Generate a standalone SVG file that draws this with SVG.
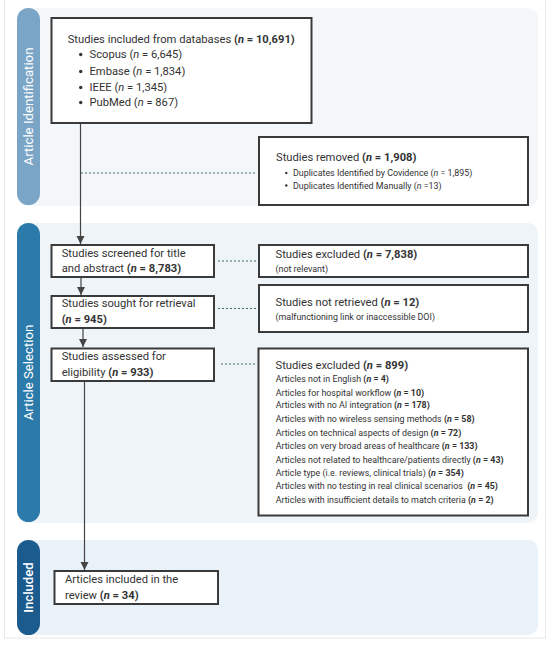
<svg xmlns="http://www.w3.org/2000/svg" width="550" height="645" viewBox="0 0 550 645">
<style>
  text { font-family: Roboto, "Liberation Sans", sans-serif; fill: #333333; }
  .t { font-size: 11.2px; }
  .s { font-size: 8.9px; }
  .b { font-weight: bold; }
  .i { font-style: italic; }
  .box { fill: #ffffff; stroke: #3a3a3a; stroke-width: 2; }
  .side { font-size: 13.2px; fill: #ffffff; }
  .dot { stroke: #3d6f6f; stroke-width: 1.1; stroke-dasharray: 2 2; fill: none; }
  .arr { stroke: #444444; stroke-width: 1.2; fill: none; }
  .bul { fill: #333333; }
</style>
<defs>
  <marker id="ah" markerUnits="userSpaceOnUse" markerWidth="9" markerHeight="9" refX="8" refY="4.5" orient="auto">
    <path d="M0,0.5 L8,4.5 L0,8.5 Z" fill="#444444"/>
  </marker>
</defs>
<rect x="4.5" y="-2" width="541" height="640" fill="#ffffff" stroke="#e8e8e8" stroke-width="1"/>

<g id="panels">
  <rect x="17" y="8" width="521" height="198" rx="10" fill="#f4f7fa"/>
  <rect x="17" y="223" width="521" height="300" rx="10" fill="#eef4f8"/>
  <rect x="17" y="540" width="521" height="95" rx="10" fill="#e9f1f9"/>
</g>

<g id="sidebar-identification">
  <rect x="17" y="8" width="23" height="197" rx="11.5" fill="#7ba5c6"/>
  <text class="side" transform="translate(28.5,106.5) rotate(-90)" text-anchor="middle" dominant-baseline="central">Article Identification</text>
</g>
<g id="sidebar-selection">
  <rect x="17" y="223" width="23" height="299" rx="11.5" fill="#2b7aa9"/>
  <text class="side" transform="translate(28.5,372.5) rotate(-90)" text-anchor="middle" dominant-baseline="central">Article Selection</text>
</g>
<g id="sidebar-included">
  <rect x="17" y="540" width="23" height="95" rx="11.5" fill="#1c5b8e"/>
  <text class="side" font-weight="500" transform="translate(28.5,587.5) rotate(-90)" text-anchor="middle" dominant-baseline="central">Included</text>
</g>

<g id="connectors">
  <line class="arr" x1="80.5" y1="123" x2="80.5" y2="244" marker-end="url(#ah)"/>
  <line class="arr" x1="81" y1="277" x2="81" y2="295" marker-end="url(#ah)"/>
  <line class="arr" x1="83" y1="328" x2="83" y2="347" marker-end="url(#ah)"/>
  <line class="arr" x1="84.5" y1="381" x2="84.5" y2="570" marker-end="url(#ah)"/>
  <line class="dot" x1="81" y1="173" x2="256" y2="173"/>
  <line class="dot" x1="218" y1="261" x2="256" y2="261"/>
  <line class="dot" x1="218" y1="308.5" x2="256" y2="308.5"/>
  <line class="dot" x1="221" y1="364" x2="256" y2="364"/>
</g>

<g id="node-databases">
  <rect class="box" x="51.5" y="18" width="260" height="105"/>
  <text class="t" x="67.7" y="43">Studies included from databases <tspan class="b">(<tspan class="i">n</tspan> = 10,691)</tspan></text>
  <circle class="bul" cx="80.7" cy="54.5" r="1.7"/><text class="t" x="89.5" y="58">Scopus (<tspan class="i">n</tspan> = 6,645)</text>
  <circle class="bul" cx="80.7" cy="71.5" r="1.7"/><text class="t" x="89.5" y="75">Embase (<tspan class="i">n</tspan> = 1,834)</text>
  <circle class="bul" cx="80.7" cy="87.5" r="1.7"/><text class="t" x="89.5" y="91">IEEE (<tspan class="i">n</tspan> = 1,345)</text>
  <circle class="bul" cx="80.7" cy="102.5" r="1.7"/><text class="t" x="89.5" y="106">PubMed (<tspan class="i">n</tspan> = 867)</text>
</g>

<g id="node-removed">
  <rect class="box" x="259" y="137" width="269" height="68"/>
  <text class="t" x="276" y="161">Studies removed <tspan class="b">(<tspan class="i">n</tspan> = 1,908)</tspan></text>
  <circle class="bul" cx="286.3" cy="173" r="1.2"/>
  <text class="s" x="293" y="176">Duplicates Identified by Covidence (<tspan class="i">n</tspan> = 1,895)</text>
  <circle class="bul" cx="286.3" cy="185.5" r="1.2"/>
  <text class="s" x="293" y="188.5">Duplicates Identified Manually (<tspan class="i">n</tspan> =13)</text>
</g>

<g id="node-screened">
  <rect class="box" x="51.5" y="245" width="162.5" height="32"/>
  <text class="t" x="61.7" y="256.7">Studies screened for title</text>
  <text class="t" x="61.7" y="272.3">and abstract <tspan class="b">(<tspan class="i">n</tspan> = 8,783)</tspan></text>
</g>

<g id="node-excluded-1">
  <rect class="box" x="259" y="245" width="269" height="32"/>
  <text class="t" x="275.5" y="258.3">Studies excluded <tspan class="b">(<tspan class="i">n</tspan> = 7,838)</tspan></text>
  <text class="s" x="275.5" y="271.5">(not relevant)</text>
</g>

<g id="node-sought">
  <rect class="box" x="51.5" y="296" width="162.5" height="32"/>
  <text class="t" x="61.7" y="307.3">Studies sought for retrieval</text>
  <text class="t" x="61.7" y="323.3"><tspan class="b">(<tspan class="i">n</tspan> = 945)</tspan></text>
</g>

<g id="node-not-retrieved">
  <rect class="box" x="259" y="285" width="269" height="47"/>
  <text class="t" x="275.5" y="305.7">Studies not retrieved <tspan class="b">(<tspan class="i">n</tspan> = 12)</tspan></text>
  <text class="s" x="275.5" y="320">(malfunctioning link or inaccessible DOI)</text>
</g>

<g id="node-assessed">
  <rect class="box" x="51.5" y="348.5" width="162.5" height="32.5"/>
  <text class="t" x="61.7" y="360">Studies assessed for</text>
  <text class="t" x="61.7" y="375.7">eligibility <tspan class="b">(<tspan class="i">n</tspan> = 933)</tspan></text>
</g>

<g id="node-excluded-2">
  <rect class="box" x="258.5" y="348.5" width="269.5" height="167"/>
  <text class="t" x="275.5" y="369">Studies excluded <tspan class="b">(<tspan class="i">n</tspan> = 899)</tspan></text>
  <text class="s" x="275.7" y="382.3">Articles not in English <tspan class="b">(<tspan class="i">n</tspan> = 4)</tspan></text>
  <text class="s" x="275.7" y="395.6">Articles for hospital workflow <tspan class="b">(<tspan class="i">n</tspan> = 10)</tspan></text>
  <text class="s" x="275.7" y="408.3">Articles with no AI integration <tspan class="b">(<tspan class="i">n</tspan> = 178)</tspan></text>
  <text class="s" x="275.7" y="422.3">Articles with no wireless sensing methods <tspan class="b">(<tspan class="i">n</tspan> = 58)</tspan></text>
  <text class="s" x="275.7" y="436">Articles on technical aspects of design <tspan class="b">(<tspan class="i">n</tspan> = 72)</tspan></text>
  <text class="s" x="275.7" y="449.3">Articles on very broad areas of healthcare <tspan class="b">(<tspan class="i">n</tspan> = 133)</tspan></text>
  <text class="s" x="275.7" y="462.6">Articles not related to healthcare/patients directly <tspan class="b">(<tspan class="i">n</tspan> = 43)</tspan></text>
  <text class="s" x="275.7" y="476">Article type (i.e. reviews, clinical trials) <tspan class="b">(<tspan class="i">n</tspan> = 354)</tspan></text>
  <text class="s" x="275.7" y="489.3" xml:space="preserve">Articles with no testing in real clinical scenarios  <tspan class="b">(<tspan class="i">n</tspan> = 45)</tspan></text>
  <text class="s" x="275.7" y="502.6">Articles with insufficient details to match criteria <tspan class="b">(<tspan class="i">n</tspan> = 2)</tspan></text>
</g>

<g id="node-included">
  <rect class="box" x="54.5" y="571" width="163.5" height="33"/>
  <text class="t" x="65" y="583">Articles included in the</text>
  <text class="t" x="65" y="599">review <tspan class="b">(<tspan class="i">n</tspan> = 34)</tspan></text>
</g>
</svg>
